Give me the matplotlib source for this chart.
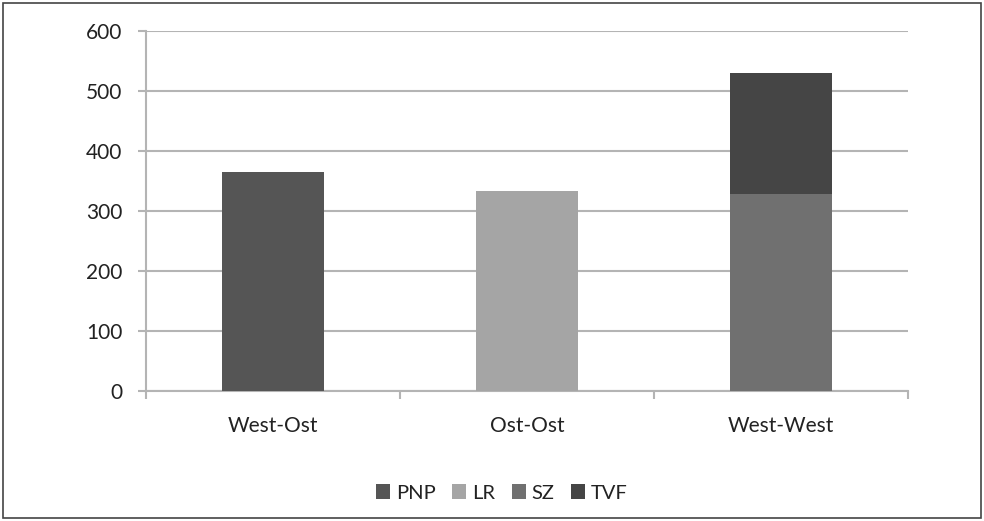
import matplotlib
matplotlib.use("Agg")
import matplotlib.pyplot as plt
from matplotlib.patches import Rectangle

categories = ["West-Ost", "Ost-Ost", "West-West"]
series_names = ["PNP", "LR", "SZ", "TVF"]
pnp = [365, 0, 0]
lr = [0, 334, 0]
sz = [0, 0, 328]
tvf = [0, 0, 202]
colors = ["#555555", "#a5a5a5", "#707070", "#454545"]
yticks = [0, 100, 200, 300, 400, 500, 600]

plt.rcParams['font.family'] = ['Lato', 'DejaVu Sans']

fig = plt.figure(figsize=(9.84, 5.21), dpi=100)
ax = fig.add_axes([146/984, 1 - 391/521, 762/984, 360/521])

x = list(range(len(categories)))
bottom = [0, 0, 0]
for name, vals, c in zip(series_names, [pnp, lr, sz, tvf], colors):
    ax.bar(x, vals, width=0.4, bottom=bottom, color=c, label=name, zorder=3)
    bottom = [b + v for b, v in zip(bottom, vals)]

ax.set_xlim(-0.5, 2.5)
ax.set_ylim(0, 600)
ax.set_yticks(yticks)
ax.set_yticklabels([str(t) for t in yticks], fontsize=15, color="#222222")
ax.yaxis.grid(True, color="#b4b4b4", linewidth=1.5, zorder=0)
ax.set_xticks(x)
ax.set_xticklabels(categories, fontsize=15, color="#222222")
ax.tick_params(axis='x', length=0, pad=18)
ax.tick_params(axis='y', length=6, width=1.5, color="#b4b4b4", pad=11)
ax.set_xticks([-0.5, 0.5, 1.5, 2.5], minor=True)
ax.tick_params(axis='x', which='minor', length=6, width=1.5, color="#b4b4b4")
for s in ["top", "right"]:
    ax.spines[s].set_visible(False)
for s in ["left", "bottom"]:
    ax.spines[s].set_color("#b4b4b4")
    ax.spines[s].set_linewidth(1.5)

leg = fig.legend(loc="center", bbox_to_anchor=(502/984, 1 - 493/521), ncol=4,
                 frameon=False, fontsize=14.5, handlelength=0.7, handleheight=0.7,
                 handletextpad=0.3, columnspacing=0.8, borderpad=0)
for t in leg.get_texts():
    t.set_color("#222222")

fig.add_artist(Rectangle((3/984, 3/521), 978/984, 515/521, transform=fig.transFigure,
                         fill=False, edgecolor="#444444", linewidth=1.2))

fig.savefig("out.png", dpi=100)
